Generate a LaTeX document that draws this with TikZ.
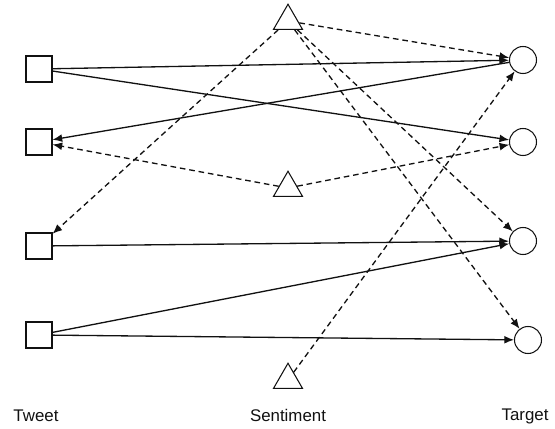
\documentclass[tikz,border=0pt]{standalone}
\usepackage{fontspec}
\setmainfont{Liberation Sans}
\usetikzlibrary{arrows.meta, shapes.geometric}
\definecolor{ink}{HTML}{111111}

\begin{document}
\begin{tikzpicture}[x=0.02cm, y=-0.02cm, >={Latex[length=5.5pt, width=4.5pt]}, line width=0.75pt,
  tweet/.style={draw=ink, rectangle, minimum size=0.52cm, inner sep=0pt, line width=0.6pt},
  target/.style={draw=ink, circle, minimum size=0.54cm, inner sep=0pt, line width=0.6pt},
  senti/.style={draw=ink, regular polygon, regular polygon sides=3, minimum size=0.67cm, inner sep=0pt, line width=0.6pt},
  solidlink/.style={->, ink},
  dashlink/.style={->, ink, dash pattern=on 3.2pt off 2.2pt},
  caption/.style={font=\fontsize{9.6}{11}\selectfont, text=ink}]

% Canvas
\useasboundingbox (0,0) rectangle (555,429);

% Tweet nodes
\node[tweet] (t1) at (39,69) {};
\node[tweet] (t2) at (39,142) {};
\node[tweet] (t3) at (39,246) {};
\node[tweet] (t4) at (39,335) {};

% Sentiment nodes
\node[senti] (s1) at (288,21) {};
\node[senti] (s2) at (288,188) {};
\node[senti] (s3) at (288,380) {};

% Target nodes
\node[target] (c1) at (523,60) {};
\node[target] (c2) at (523,142) {};
\node[target] (c3) at (523,241) {};
\node[target] (c4) at (528,340) {};

% Tweet-target links
\draw[solidlink] (t1) -- (c1);
\draw[solidlink] (t1) -- (c2);
\draw[solidlink] (c1) -- (t2);
\draw[solidlink] (t3) -- (c3);
\draw[solidlink] (t4) -- (c3);
\draw[solidlink] (t4) -- (c4);

% Sentiment links
\draw[dashlink] (s1) -- (c1);
\draw[dashlink] (s1) -- (t3);
\draw[dashlink] (s1) -- (c3);
\draw[dashlink] (s1) -- (c4);
\draw[dashlink] (s2) -- (t2);
\draw[dashlink] (s2) -- (c2);
\draw[dashlink] (s3) -- (c1);

% Column labels
\node[caption] (ltweet) at (36,416) {Tweet};
\node[caption] (lsenti) at (288,415) {Sentiment};
\node[caption] (ltarget) at (525,416) {Target};

\end{tikzpicture}
\end{document}
